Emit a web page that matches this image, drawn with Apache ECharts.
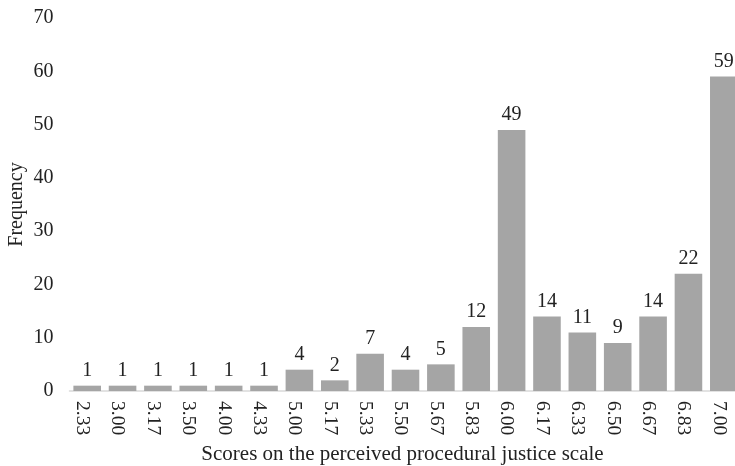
<!DOCTYPE html>
<html><head><meta charset="utf-8">
<script src="https://cdn.jsdelivr.net/npm/echarts@6/dist/echarts.min.js"></script>
<style>html,body{margin:0;padding:0;background:#fff}#c{width:735px;height:466px}</style>
</head><body><div id="c"></div>
<script>
const categories = ['2.33','3.00','3.17','3.50','4.00','4.33','5.00','5.17','5.33','5.50','5.67','5.83','6.00','6.17','6.33','6.50','6.67','6.83','7.00'];
const frequencies = [1,1,1,1,1,1,4,2,7,4,5,12,49,14,11,9,14,22,59];
const yTicks = [0,10,20,30,40,50,60,70];
const font = '"Liberation Serif", "Times New Roman", serif';
const chart = echarts.init(document.getElementById('c'));
chart.setOption({
  animation:false,
  grid:{left:69.5,width:672,top:18,bottom:75,containLabel:false,outerBoundsMode:'none'},
  xAxis:{type:'category',data:categories,
    axisLine:{lineStyle:{color:'#d9d9d9',width:1.5}},axisTick:{show:false},
    axisLabel:{rotate:-90,color:'#222',fontFamily:font,fontSize:19.5,margin:10,verticalAlign:'top',lineHeight:10},
    name:'Scores on the perceived procedural justice scale',nameLocation:'middle',nameGap:53,nameMoveOverlap:false,
    nameTextStyle:{color:'#222',fontFamily:font,fontSize:21,padding:[0,0,0,-6]}},
  yAxis:{type:'value',min:yTicks[0],max:yTicks[yTicks.length-1],interval:10,
    splitLine:{show:false},axisLine:{show:false},axisTick:{show:false},
    axisLabel:{color:'#222',fontFamily:font,fontSize:20,margin:16},
    name:'Frequency',nameLocation:'middle',nameGap:43,nameMoveOverlap:false,
    nameTextStyle:{color:'#222',fontFamily:font,fontSize:20}},
  series:[{type:'bar',data:frequencies,barCategoryGap:'22%',
    itemStyle:{color:'#a5a5a5'},
    label:{show:true,position:'top',distance:5,color:'#222',fontFamily:font,fontSize:20}}]
});
</script></body></html>
